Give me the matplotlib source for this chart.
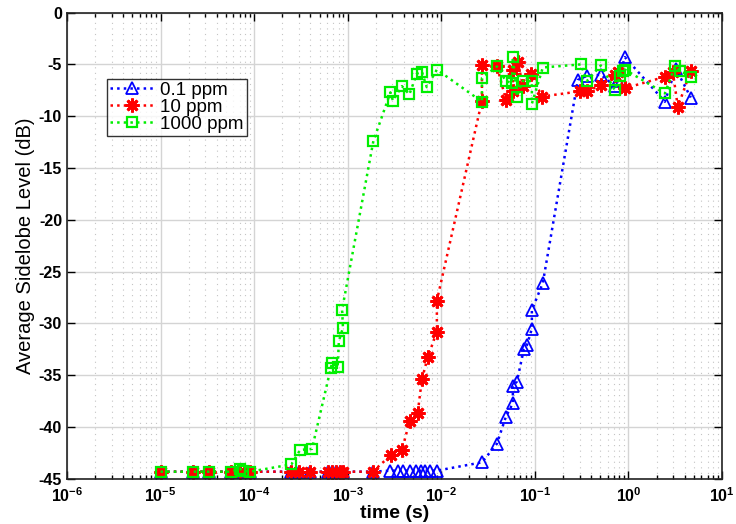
import matplotlib
matplotlib.use('Agg')
import matplotlib.pyplot as plt
from matplotlib.ticker import LogLocator, NullFormatter, FixedLocator

plt.rcParams['font.family'] = ['Liberation Sans', 'DejaVu Sans']
plt.rcParams['mathtext.fontset'] = 'custom'
plt.rcParams['mathtext.rm'] = 'Liberation Sans:bold'
plt.rcParams['mathtext.bf'] = 'Liberation Sans:bold'
plt.rcParams['mathtext.default'] = 'bf'
plt.rcParams['axes.unicode_minus'] = False

# 0.1 ppm
t_01 = [1.0e-5, 2.2e-5, 3.3e-5, 5.6e-5, 7.0e-5, 9.0e-5, 2.5e-4, 3.0e-4, 4.0e-4,
        6.2e-4, 6.8e-4, 7.5e-4, 8.2e-4, 9.0e-4, 1.85e-3, 2.86e-3, 3.43e-3, 3.9e-3,
        4.6e-3, 5.35e-3, 6.05e-3, 6.68e-3, 7.55e-3, 8.97e-3, 0.0272, 0.0393, 0.049,
        0.0582, 0.0582, 0.0643, 0.0762, 0.0822, 0.0929, 0.0929, 0.1216, 0.288, 0.36,
        0.507, 0.716, 0.771, 0.916, 2.45, 3.2, 4.64]
y_01 = [-44.3, -44.3, -44.3, -44.3, -44.3, -44.3, -44.3, -44.3, -44.3,
        -44.3, -44.3, -44.3, -44.3, -44.3, -44.3, -44.2, -44.2, -44.2,
        -44.2, -44.2, -44.2, -44.2, -44.2, -44.2, -43.4, -41.6, -39.0,
        -37.7, -36.0, -35.6, -32.5, -32.1, -30.5, -28.7, -26.1, -6.5, -6.1,
        -6.0, -7.1, -6.6, -4.3, -8.6, -5.4, -8.2]

# 10 ppm
t_10 = [1.0e-5, 2.2e-5, 3.3e-5, 5.6e-5, 7.0e-5, 9.0e-5, 2.5e-4, 3.0e-4, 4.0e-4,
        6.2e-4, 6.8e-4, 7.5e-4, 8.2e-4, 9.0e-4, 1.85e-3, 2.9e-3, 3.8e-3, 4.6e-3,
        5.6e-3, 6.2e-3, 7.2e-3, 8.97e-3, 8.97e-3, 0.0272, 0.0272, 0.0393, 0.049,
        0.0582, 0.0582, 0.0658, 0.0745, 0.0906, 0.119, 0.303, 0.36, 0.507, 0.716,
        0.771, 0.916, 2.45, 2.98, 3.37, 4.64]
y_10 = [-44.3, -44.3, -44.3, -44.3, -44.3, -44.3, -44.3, -44.3, -44.3,
        -44.3, -44.3, -44.3, -44.3, -44.3, -44.3, -42.7, -42.2, -39.4,
        -38.6, -35.4, -33.2, -30.8, -27.8, -8.5, -5.05, -5.15, -8.4,
        -7.6, -5.5, -4.75, -7.1, -5.9, -8.1, -7.6, -7.6, -7.0, -6.0,
        -5.7, -7.3, -6.2, -5.7, -9.1, -5.6]

# 1000 ppm
t_1000 = [1.0e-5, 2.2e-5, 3.3e-5, 5.6e-5, 7.0e-5, 7.6e-5, 9.0e-5, 2.5e-4, 3.1e-4,
          4.15e-4, 6.6e-4, 6.8e-4, 7.8e-4, 8.05e-4, 8.9e-4, 8.7e-4, 1.88e-3, 2.86e-3,
          3.04e-3, 3.8e-3, 4.56e-3, 5.48e-3, 6.2e-3, 7.0e-3, 8.97e-3, 0.0272, 0.0272,
          0.0393, 0.049, 0.0568, 0.0582, 0.0643, 0.0745, 0.0929, 0.0929, 0.1216, 0.31,
          0.36, 0.507, 0.716, 0.81, 0.87, 0.916, 2.45, 3.13, 3.54, 4.64]
y_1000 = [-44.3, -44.3, -44.3, -44.3, -44.0, -44.2, -44.3, -43.6, -42.2,
          -42.1, -34.3, -33.8, -34.2, -31.7, -30.4, -28.7, -12.4, -7.7,
          -8.5, -7.1, -7.9, -5.9, -5.7, -7.2, -5.5, -8.6, -6.3,
          -5.2, -6.6, -6.8, -4.3, -8.1, -6.6, -6.6, -8.8, -5.3, -5.0,
          -6.6, -5.1, -7.5, -6.1, -5.6, -5.5, -7.8, -5.2, -5.6, -6.2]

x_exps = [-6, -5, -4, -3, -2, -1, 0, 1]

fig = plt.figure(figsize=(7.36, 5.24), dpi=100)
ax = fig.add_axes([0.091, 0.086, 0.890, 0.890])

ax.semilogx(t_01, y_01, ':', color='blue', marker='^', mfc='none', mec='blue',
            ms=8.5, mew=1.3, lw=1.8, label='0.1 ppm')
ax.semilogx(t_10, y_10, ':', color='red', marker=(8, 2, 0), mfc='red', mec='red',
            ms=10, mew=2.0, lw=1.8, label='10 ppm')
ax.semilogx(t_1000, y_1000, ':', color='#00ee00', marker='s', mfc='none', mec='#00ee00',
            ms=6.5, mew=1.6, lw=1.8, label='1000 ppm')

ax.set_xlim(1e-6, 1e1)
ax.set_ylim(-45, 0)
ax.set_yticks(range(-45, 1, 5))
ax.xaxis.set_major_locator(FixedLocator([10.0 ** e for e in x_exps]))
ax.set_xticklabels([r'$10^{%d}$' % e for e in x_exps])
ax.xaxis.set_minor_locator(LogLocator(base=10, subs=range(2, 10), numticks=100))
ax.xaxis.set_minor_formatter(NullFormatter())

ax.grid(True, which='major', color='#d4d4d4', lw=1.0, ls='-')
ax.grid(True, which='minor', axis='x', color='#c4c4c4', lw=0.8, ls=(0, (1, 4)))
ax.set_axisbelow(True)

ax.tick_params(which='both', direction='in', top=True, right=True, width=1.0)
ax.tick_params(which='major', length=6, labelsize=11.5)
ax.tick_params(which='minor', length=3)
ax.tick_params(axis='x', which='major', pad=5)
for lbl in ax.get_yticklabels():
    lbl.set_fontweight('bold')
for s in ax.spines.values():
    s.set_linewidth(1.2)
    s.set_color('#222222')

ax.set_xlabel('time (s)', fontsize=14, fontweight='bold', labelpad=0)
ax.set_ylabel('Average Sidelobe Level (dB)', fontsize=14.5, labelpad=3)

leg = ax.legend(loc='upper left', bbox_to_anchor=(0.061, 0.858), borderaxespad=0,
                fontsize=13.5, frameon=True, fancybox=False, labelspacing=0.0,
                handlelength=2.4, handletextpad=0.3, borderpad=0.15)
leg.get_frame().set_edgecolor('black')
leg.get_frame().set_linewidth(1.0)

fig.savefig('out.png', dpi=100)
